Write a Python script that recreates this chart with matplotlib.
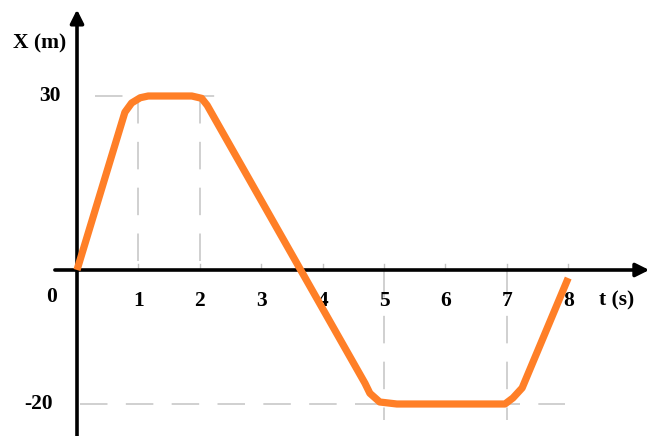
"""Position-time graph X(t), drawn as a hand-made axis sketch."""
import numpy as np
import matplotlib
matplotlib.use("Agg")
import matplotlib.pyplot as plt

# curve (t in s, X in m)
t_vals = [0, 0.78, 0.89, 1.03, 1.16, 1.87, 2.03, 2.12, 4.69, 4.77, 4.93, 5.21, 6.97, 7.1, 7.25, 8.0]
x_vals = [0, 27.2, 28.8, 29.7, 30, 30, 29.6, 28.4, -16.9, -18.4, -19.7, -20, -20, -19.1, -17.6, -1.2]

t_ticks = [1, 2, 3, 4, 5, 6, 7, 8]
t_labels = ["1", "2", "3", "4", "5", "6", "7", "8"]
y_marks = [30, 0, -20]
y_labels = ["30", "0", "-20"]

# the drawing is stretched a bit below zero
K = 6.7 / 5.8


def fwd(y):
    y = np.asarray(y, dtype=float)
    return np.where(y < 0, y * K, y)


def inv(y):
    y = np.asarray(y, dtype=float)
    return np.where(y < 0, y / K, y)


plt.rcParams["font.family"] = ["Liberation Serif", "DejaVu Serif"]
fig = plt.figure(figsize=(6.5, 4.36), dpi=100)
ax = fig.add_axes([0, 0, 1, 1])
ax.set_yscale("function", functions=(fwd, inv))
ax.set_xlim(-77 / 61.4, (650 - 77) / 61.4)
ax.set_ylim(-166 / 6.7, 270 / 5.8)
ax.axis("off")

grey = "#c4c4c4"
dash = dict(color=grey, lw=1.1, dashes=(18, 12))
# guide lines
ax.plot([0.29, 2.33], [30, 30], **dash)
ax.plot([1, 1], [30, 0], **dash)
ax.plot([2, 2], [30, 0], **dash)
ax.plot([0.05, 7.95], [-20, -20], **dash)
ax.plot([5, 5], [0, -22.4], **dash)
ax.plot([7, 7], [0, -22.4], **dash)

# small tick marks above the t axis
for tk in t_ticks:
    ax.plot([tk, tk], [0, 1.1], color=grey, lw=1)

# axes with arrow heads
ax.annotate("", xy=(9.32, 0), xytext=(-0.36, 0),
            arrowprops=dict(arrowstyle="-|>", lw=2.6, color="k",
                            mutation_scale=20, shrinkA=0, shrinkB=0))
ax.annotate("", xy=(0, 44.9), xytext=(0, -25),
            arrowprops=dict(arrowstyle="-|>", lw=2.6, color="k",
                            mutation_scale=20, shrinkA=0, shrinkB=0))

ax.plot(t_vals, x_vals, color="#ff7f27", lw=5.2,
        solid_joinstyle="round", solid_capstyle="butt", zorder=5)

fs = 15.5
for tk, lab in zip(t_ticks, t_labels):
    ax.text(tk, -4.6, lab, ha="center", va="center", fontsize=fs, fontweight="bold")
ax.text(-0.27, 30, y_labels[0], ha="right", va="center", fontsize=fs, fontweight="bold")
ax.text(-0.33, -4.0, y_labels[1], ha="right", va="center", fontsize=fs, fontweight="bold")
ax.text(-0.4, -20, y_labels[2], ha="right", va="center", fontsize=fs, fontweight="bold")
ax.text(-0.18, 39.1, "X (m)", ha="right", va="center", fontsize=fs, fontweight="bold")
ax.text(8.5, -4.6, "t (s)", ha="left", va="center", fontsize=fs, fontweight="bold")

fig.savefig("out.png", dpi=100)
